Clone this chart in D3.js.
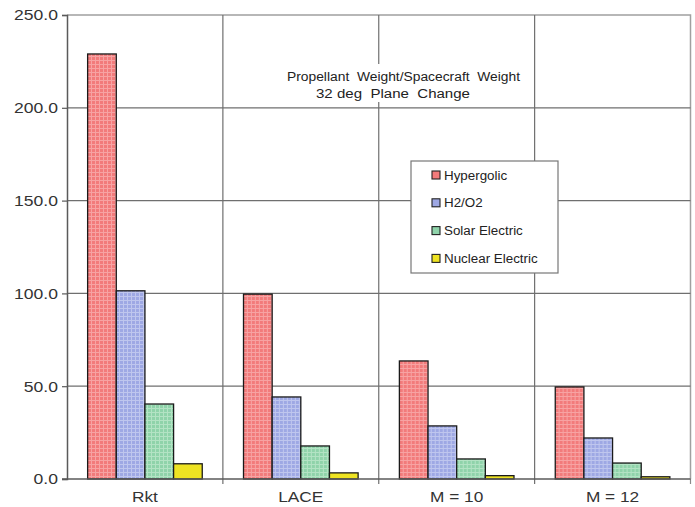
<!DOCTYPE html>
<html>
<head>
<meta charset="utf-8">
<script src="https://cdn.jsdelivr.net/npm/d3@7"></script>
<style>
  html, body { margin: 0; padding: 0; background: #fff; }
  svg { display: block; font-family: Arial, "Liberation Sans", sans-serif; }
</style>
</head>
<body>
<svg id="chart" width="695" height="507"></svg>
<script>
// Propellant weight / spacecraft weight for a 32 deg plane change
const categories = ["Rkt", "LACE", "M = 10", "M = 12"];
const seriesNames = ["Hypergolic", "H2/O2", "Solar Electric", "Nuclear Electric"];
const hypergolic = [229.0, 99.6, 63.6, 49.6];
const h2o2 = [101.4, 44.2, 28.6, 22.1];
const solarElectric = [40.4, 17.8, 10.8, 8.6];
const nuclearElectric = [8.2, 3.3, 1.8, 1.2];
const yTicks = [0, 50, 100, 150, 200, 250];
const titleLines = ["Propellant  Weight/Spacecraft  Weight", "32 deg  Plane  Change"];

const seriesValues = [hypergolic, h2o2, solarElectric, nuclearElectric];
const baseColors = ["#f27b7b", "#9ea8e4", "#8fd3aa", "#eee322"];
const lightColors = ["#f7a3a3", "#bfc6ee", "#b3e3c4", "#eee322"];

const svg = d3.select("#chart");
const margin = { left: 67, right: 4, top: 15, bottom: 28 };
const W = 695, H = 507;
const x0 = margin.left, x1 = W - margin.right - 0.5;
const yTop = margin.top, yBot = H - margin.bottom;

const x = d3.scaleBand().domain(categories).range([x0, x1]).paddingInner(0).paddingOuter(0);
const xs = d3.scaleBand().domain(d3.range(seriesNames.length))
  .range([0, x.bandwidth()]).paddingInner(0).paddingOuter(0.72);
const y = d3.scaleLinear().domain([0, 250]).range([yBot, yTop]);

// widen text horizontally a little, as the chart's type is set wide
function stretch(sel, k) {
  sel.each(function () {
    const w = this.getComputedTextLength();
    d3.select(this).attr("textLength", w * k).attr("lengthAdjust", "spacingAndGlyphs");
  });
}

// checkered fill patterns
const defs = svg.append("defs");
seriesNames.forEach((s, i) => {
  const p = defs.append("pattern").attr("id", "pat" + i)
    .attr("patternUnits", "userSpaceOnUse").attr("width", 4).attr("height", 4);
  p.append("rect").attr("width", 4).attr("height", 4).attr("fill", baseColors[i]);
  if (i < 3) {
    p.append("rect").attr("x", 0).attr("y", 0).attr("width", 1).attr("height", 4).attr("fill", lightColors[i]);
    p.append("rect").attr("x", 0).attr("y", 0).attr("width", 4).attr("height", 1).attr("fill", lightColors[i]);
  }
});

// plot frame (top & right)
svg.append("path")
  .attr("d", `M${x0},${y(250)}H${x1}V${yBot}`)
  .attr("fill", "none").attr("stroke", "#a0a0a0").attr("stroke-width", 1.5);

// horizontal gridlines
svg.append("g").selectAll("line").data(yTicks.filter(t => t > 0 && t < 250)).join("line")
  .attr("x1", x0).attr("x2", x1)
  .attr("y1", d => y(d)).attr("y2", d => y(d))
  .attr("stroke", "#6f6f6f").attr("stroke-width", 1.2);

// vertical category dividers (extend below axis as tick marks)
svg.append("g").selectAll("line").data(categories.slice(1)).join("line")
  .attr("x1", d => x(d)).attr("x2", d => x(d))
  .attr("y1", y(250)).attr("y2", yBot + 5)
  .attr("stroke", "#6f6f6f").attr("stroke-width", 1.2);
svg.append("line").attr("x1", x1).attr("x2", x1).attr("y1", yBot).attr("y2", yBot + 5)
  .attr("stroke", "#8a8a8a").attr("stroke-width", 1.2);

// title with white backing
svg.append("rect").attr("x", 283).attr("y", 64).attr("width", 242).attr("height", 38).attr("fill", "#fff");
const titleX = [403.5, 393];
const titleLen = [233, 154];
svg.append("g").selectAll("text").data(titleLines).join("text")
  .attr("x", (d, i) => titleX[i]).attr("y", (d, i) => 80.5 + i * 17)
  .attr("text-anchor", "middle").attr("font-size", 12.5).attr("fill", "#222")
  .style("white-space", "pre")
  .attr("textLength", (d, i) => titleLen[i]).attr("lengthAdjust", "spacingAndGlyphs")
  .text(d => d);

// bars
const groups = svg.append("g").selectAll("g").data(categories).join("g")
  .attr("transform", d => `translate(${x(d)},0)`);
groups.selectAll("rect").data((c, ci) => seriesValues.map((vals, si) => ({ si, v: vals[ci] }))).join("rect")
  .attr("x", d => xs(d.si))
  .attr("width", xs.bandwidth())
  .attr("y", d => y(d.v))
  .attr("height", d => yBot - y(d.v))
  .attr("fill", d => `url(#pat${d.si})`)
  .attr("stroke", "#1a1a1a").attr("stroke-width", 1.3);

// y axis
const yAxis = svg.append("g").attr("transform", `translate(${x0},0)`)
  .call(d3.axisLeft(y).tickValues(yTicks).tickFormat(d3.format(".1f")).tickSize(5).tickPadding(4));
yAxis.select(".domain").attr("stroke", "#5a5a5a").attr("stroke-width", 1.5);
yAxis.selectAll(".tick line").attr("stroke", "#5a5a5a").attr("stroke-width", 1.2);
yAxis.selectAll(".tick text").attr("font-size", 15).attr("fill", "#333")
  .attr("font-family", "Arial, 'Liberation Sans', sans-serif").call(stretch, 1.17);

// x axis
svg.append("line").attr("x1", x0 - 5).attr("x2", x1).attr("y1", yBot).attr("y2", yBot)
  .attr("stroke", "#5a5a5a").attr("stroke-width", 1.5);
svg.append("g").selectAll("text").data(categories).join("text")
  .attr("x", d => x(d) + x.bandwidth() / 2)
  .attr("y", yBot + 23)
  .attr("text-anchor", "middle").attr("font-size", 15).attr("fill", "#333")
  .text(d => d).call(stretch, 1.15);

// legend
const lg = svg.append("g").attr("transform", "translate(411,161)");
lg.append("rect").attr("width", 147).attr("height", 112)
  .attr("fill", "#fff").attr("stroke", "#777").attr("stroke-width", 1.2);
const items = lg.selectAll("g").data(seriesNames).join("g")
  .attr("transform", (d, i) => `translate(21,${14 + i * 27.8})`);
items.append("rect").attr("x", 0).attr("y", -4).attr("width", 8).attr("height", 8)
  .attr("fill", (d, i) => baseColors[i]).attr("stroke", "#222").attr("stroke-width", 1.1);
items.append("text").attr("x", 12).attr("y", 4.5)
  .attr("font-size", 12.5).attr("fill", "#222").text(d => d).call(stretch, 1.07);
</script>
</body>
</html>
